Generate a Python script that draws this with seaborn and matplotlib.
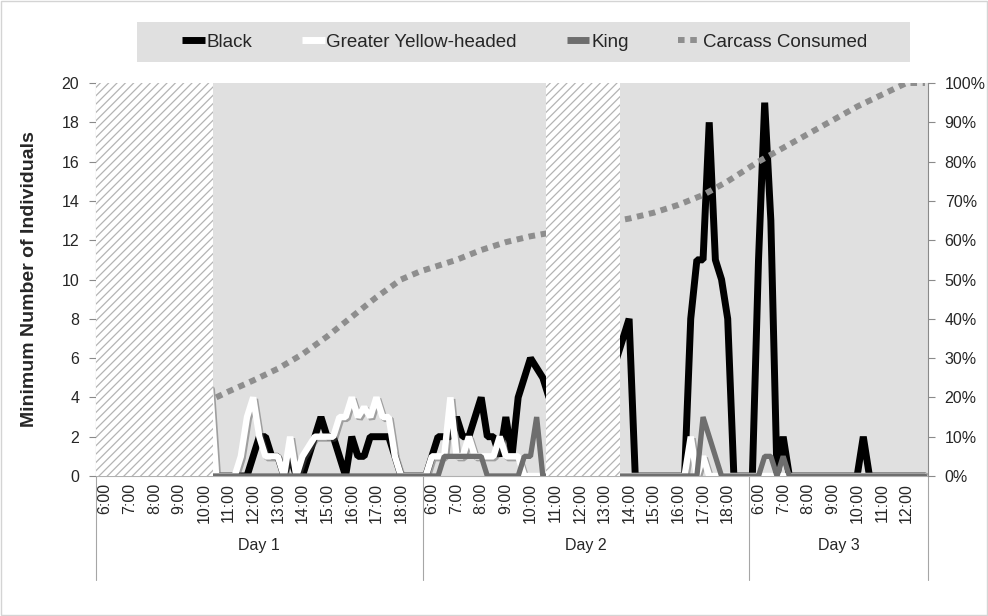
import numpy as np
import pandas as pd
import matplotlib
matplotlib.use("Agg")
import matplotlib.pyplot as plt
import matplotlib.patheffects as pe
import matplotlib.transforms as mtransforms
from matplotlib.lines import Line2D
from matplotlib.patches import Rectangle
from matplotlib.ticker import MultipleLocator, PercentFormatter
import seaborn as sns

# ------------------------------------------------------------------ data
days = ["Day 1", "Day 2", "Day 3"]
day_first_slot = ["5:45", "5:45", "5:45"]
day_last_slot = ["18:45", "18:45", "12:45"]

hours_day1 = ["6:00", "7:00", "8:00", "9:00", "10:00", "11:00", "12:00",
              "13:00", "14:00", "15:00", "16:00", "17:00", "18:00"]
hours_day2 = ["6:00", "7:00", "8:00", "9:00", "10:00", "11:00", "12:00",
              "13:00", "14:00", "15:00", "16:00", "17:00", "18:00"]
hours_day3 = ["6:00", "7:00", "8:00", "9:00", "10:00", "11:00", "12:00"]

# periods without observation (hatched)
absent_day = [0, 1]
absent_from = ["5:45", "10:45"]
absent_to = ["10:15", "13:30"]

# 15-min counts, Day 1 from 10:15 to 18:45
day1_start = "10:15"
black_day1 = [1.5, 0, 0, 0, 0, 0, 0, 1, 2, 2, 1, 1, 0, 1, 0, 0, 1, 2,
              3, 2, 2, 1, 0, 2, 1, 1, 2, 2, 2, 2, 1, 0, 0, 0, 0]
white_day1 = [4.5, 0, 0, 0, 0, 1, 3, 4, 2, 1, 1, 1, 0, 2, 0, 1, 1.5, 2,
              2, 2, 2, 3, 3, 4, 3, 3.5, 3, 4, 3, 3, 1, 0, 0, 0, 0]
king_day1 = [0, 0, 0, 0, 0, 0, 0, 0, 0, 0, 0, 0, 0, 0, 0, 0, 0, 0,
             0, 0, 0, 0, 0, 0, 0, 0, 0, 0, 0, 0, 0, 0, 0, 0, 0]

# Day 2 from 5:45 to 18:45 (None = not observed)
day2_start = "5:45"
black_day2 = [0, 1, 2, 2, 2, 3, 2, 2, 3, 4, 2, 2, 1, 3, 1, 4, 5, 6, 5.5, 5, 4,
              None, None, None, None, None, None, None, None, None, None,
              6, 7, 8, 0, 0, 0, 0, 0, 0, 0, 0, 0, 8, 11, 11, 18, 11, 10, 8, 0, 0, 0]
white_day2 = [0, 1, 1, 1, 4, 1, 1, 2, 1, 1, 1, 1, 2, 1, 1, 1, 0, 0, 0, 0, 0,
              None, None, None, None, None, None, None, None, None, None,
              0, 0, 0, 0, 0, 0, 0, 0, 0, 0, 0, 0, 2, 0, 1, 0, 0, 0, 0, 0, 0, 0]
king_day2 = [0, 0, 0, 1, 1, 1, 1, 1, 1, 1, 0, 0, 0, 0, 0, 0, 1, 1, 3, 0, 0,
             None, None, None, None, None, None, None, None, None, None,
             0, 0, 0, 0, 0, 0, 0, 0, 0, 0, 0, 0, 0, 0, 3, 2, 1, 0, 0, 0, 0, 0, 0]

# Day 3 from 5:45 to 12:45
day3_start = "5:45"
black_day3 = [0, 11, 19, 13, 0, 2, 0, 0, 0, 0, 0, 0, 0, 0, 0, 0, 0, 0,
              2, 0, 0, 0, 0, 0, 0, 0, 0, 0, 0]
white_day3 = [0, 0, 0, 0, 0, 0, 0, 0, 0, 0, 0, 0, 0, 0, 0, 0, 0, 0,
              0, 0, 0, 0, 0, 0, 0, 0, 0, 0, 0]
king_day3 = [0, 0, 1, 1, 0, 1, 0, 0, 0, 0, 0, 0, 0, 0, 0, 0, 0, 0,
             0, 0, 0, 0, 0, 0, 0, 0, 0, 0, 0]

# Carcass consumed (%), hourly readings
carcass_day1_times = ["10:30", "11:00", "12:00", "13:00", "14:00", "15:00",
                      "16:00", "17:00", "18:00", "18:45"]
carcass_day1 = [20, 21.5, 24.3, 27.3, 31, 35.5, 40.5, 45.5, 50, 52]
carcass_day2_times = ["5:45", "6:00", "7:00", "8:00", "9:00", "10:00",
                      "14:00", "15:00", "16:00", "17:00", "18:00", "18:45"]
carcass_day2 = [52.5, 53, 55, 57.5, 59.5, 61, 65.5, 67, 69, 71.5, 75, 78]
carcass_day3_times = ["5:45", "6:00", "7:00", "8:00", "9:00", "10:00",
                      "11:00", "12:00", "12:45"]
carcass_day3 = [79, 80, 83.5, 87, 90.5, 94, 97, 100, 100]

series_names = ["Black", "Greater Yellow-headed", "King", "Carcass Consumed"]

# ------------------------------------------------------------------ helpers
def minutes(t):
    h, m = t.split(":")
    return int(h) * 60 + int(m)

n_slots = [(minutes(day_last_slot[i]) - minutes(day_first_slot[i])) // 15 + 1
           for i in range(len(days))]
offsets = [int(sum(n_slots[:i])) for i in range(len(days))]
total = int(sum(n_slots))


def pos(day, t):
    return offsets[day] + (minutes(t) - minutes(day_first_slot[day])) // 15


rows = []
for day, start, vals_b, vals_w, vals_k in [
        (0, day1_start, black_day1, white_day1, king_day1),
        (1, day2_start, black_day2, white_day2, king_day2),
        (2, day3_start, black_day3, white_day3, king_day3)]:
    p0 = pos(day, start)
    for name, vals in [("Black", vals_b), ("Greater Yellow-headed", vals_w),
                       ("King", vals_k)]:
        for k, v in enumerate(vals):
            rows.append({"x": p0 + k, "value": np.nan if v is None else v,
                         "series": name})
df = pd.DataFrame(rows)

carc_x, carc_y = [], []
for day, times, vals in [(0, carcass_day1_times, carcass_day1),
                         (1, carcass_day2_times, carcass_day2),
                         (2, carcass_day3_times, carcass_day3)]:
    for t, v in zip(times, vals):
        carc_x.append(pos(day, t))
        carc_y.append(v)
carc = pd.DataFrame({"x": carc_x, "pct": carc_y})

# ------------------------------------------------------------------ style
sns.set_style("white")
plt.rcParams["font.family"] = ["Liberation Sans", "DejaVu Sans"]
plt.rcParams["hatch.linewidth"] = 0.9

C_BLACK = "#000000"
C_WHITE = "#ffffff"
C_KING = "#6e6e6e"
C_CARC = "#8e8e8e"
C_BG = "#e0e0e0"
C_AX = "#8a8a8a"
carc_dash = (0, (1.1, 0.95))

fig = plt.figure(figsize=(9.88, 6.16), dpi=100)
ax = fig.add_axes([96 / 988, 1 - 476 / 616, 832 / 988, 393 / 616])
ax.set_facecolor(C_BG)
ax2 = ax.twinx()

# species lines
styles = {"Black": (C_BLACK, 5.0, 2),
          "Greater Yellow-headed": (C_WHITE, 4.6, 3),
          "King": (C_KING, 3.8, 4)}
for name in ["Black", "Greater Yellow-headed", "King"]:
    col, lw, z = styles[name]
    n_before = len(ax.lines)
    sns.lineplot(data=df[df.series == name], x="x", y="value", ax=ax,
                 color=col, estimator=None, errorbar=None)
    for ln in ax.lines[n_before:]:
        ln.set_linewidth(lw)
        ln.set_solid_joinstyle("bevel")
        ln.set_zorder(z)
        if name == "Greater Yellow-headed":
            ln.set_path_effects([pe.SimpleLineShadow(offset=(1.3, -1.3),
                                                     shadow_color="#505050",
                                                     alpha=0.45),
                                 pe.Normal()])

# carcass consumed on secondary axis
sns.lineplot(data=carc, x="x", y="pct", ax=ax2, color=C_CARC,
             estimator=None, errorbar=None)
cl = ax2.lines[-1]
cl.set_linewidth(4.3)
cl.set_linestyle(carc_dash)
cl.set_dash_capstyle("butt")
cl.set_zorder(3)

# hatched unobserved periods (drawn over everything)
for d, a, b in zip(absent_day, absent_from, absent_to):
    s, e = pos(d, a), pos(d, b)
    ax2.bar([(s + e) / 2], [100], width=e - s + 1, color="white",
            edgecolor="#b4b4b4", hatch="////", linewidth=0, zorder=5)

# axes limits / ticks
ax.set_xlim(-0.5, total - 0.5)
ax.set_ylim(0, 20)
ax2.set_ylim(0, 100)
ax.yaxis.set_major_locator(MultipleLocator(2))
ax2.yaxis.set_major_locator(MultipleLocator(10))
ax2.yaxis.set_major_formatter(PercentFormatter(xmax=100, decimals=0))

tick_pos, tick_lab = [], []
for d, hrs in enumerate([hours_day1, hours_day2, hours_day3]):
    for h in hrs:
        tick_pos.append(pos(d, h))
        tick_lab.append(h)
ax.set_xticks(tick_pos)
ax.set_xticklabels(tick_lab, rotation=90, fontsize=11.5)
ax.tick_params(axis="x", length=0, pad=5)
ax.tick_params(axis="y", left=True, length=5, width=0.8, color=C_AX,
               labelsize=11.5, pad=7)
ax2.tick_params(axis="y", right=True, length=5, width=0.8, color=C_AX,
                labelsize=11.5, pad=7)

for sp in ["top", "right"]:
    ax.spines[sp].set_visible(False)
for sp in ["top", "left", "bottom"]:
    ax2.spines[sp].set_visible(False)
ax.spines["left"].set_color(C_AX)
ax.spines["left"].set_linewidth(0.8)
ax.spines["bottom"].set_color("#b0b0b0")
ax.spines["bottom"].set_linewidth(0.8)
ax2.spines["right"].set_color(C_AX)
ax2.spines["right"].set_linewidth(0.8)

ax.set_xlabel("")
ax2.set_ylabel("")
ax2.set_xlabel("")
ax.set_ylabel("Minimum Number of Individuals", fontsize=14, fontweight="bold")
ax.yaxis.set_label_coords(-0.0697, 0.5)

# day level of category axis
blend = mtransforms.blended_transform_factory(ax.transData, ax.transAxes)
bounds = [offsets[i] - 0.5 for i in range(len(days))] + [total - 0.5]
for b in bounds:
    ax.plot([b, b], [0, -0.265], transform=blend, color="#a6a6a6", lw=0.8,
            clip_on=False)
for i, name in enumerate(days):
    ax.text((bounds[i] + bounds[i + 1]) / 2, -0.176, name, transform=blend,
            ha="center", va="center", fontsize=11.5)

# legend band
fig.add_artist(Rectangle((137 / 988, 1 - 62 / 616), (910 - 137) / 988, 40 / 616,
                         transform=fig.transFigure, facecolor=C_BG,
                         edgecolor="none", zorder=0))
handles = [Line2D([], [], color=C_BLACK, lw=5, solid_capstyle="butt"),
           Line2D([], [], color=C_WHITE, lw=5, solid_capstyle="butt"),
           Line2D([], [], color=C_KING, lw=5, solid_capstyle="butt"),
           Line2D([], [], color=C_CARC, lw=4.3, linestyle=carc_dash,
                  dash_capstyle="butt")]
fig.legend(handles, series_names, loc="center",
           bbox_to_anchor=(524.5 / 988, 1 - 42 / 616), ncol=4, frameon=False,
           fontsize=13.5, handlelength=1.2, handletextpad=0.1,
           columnspacing=2.65)

# chart border
fig.add_artist(Rectangle((0.001, 0.001), 0.998, 0.998, transform=fig.transFigure,
                         fill=False, edgecolor="#d4d4d4", lw=1.0))

fig.savefig("out.png", dpi=100)
